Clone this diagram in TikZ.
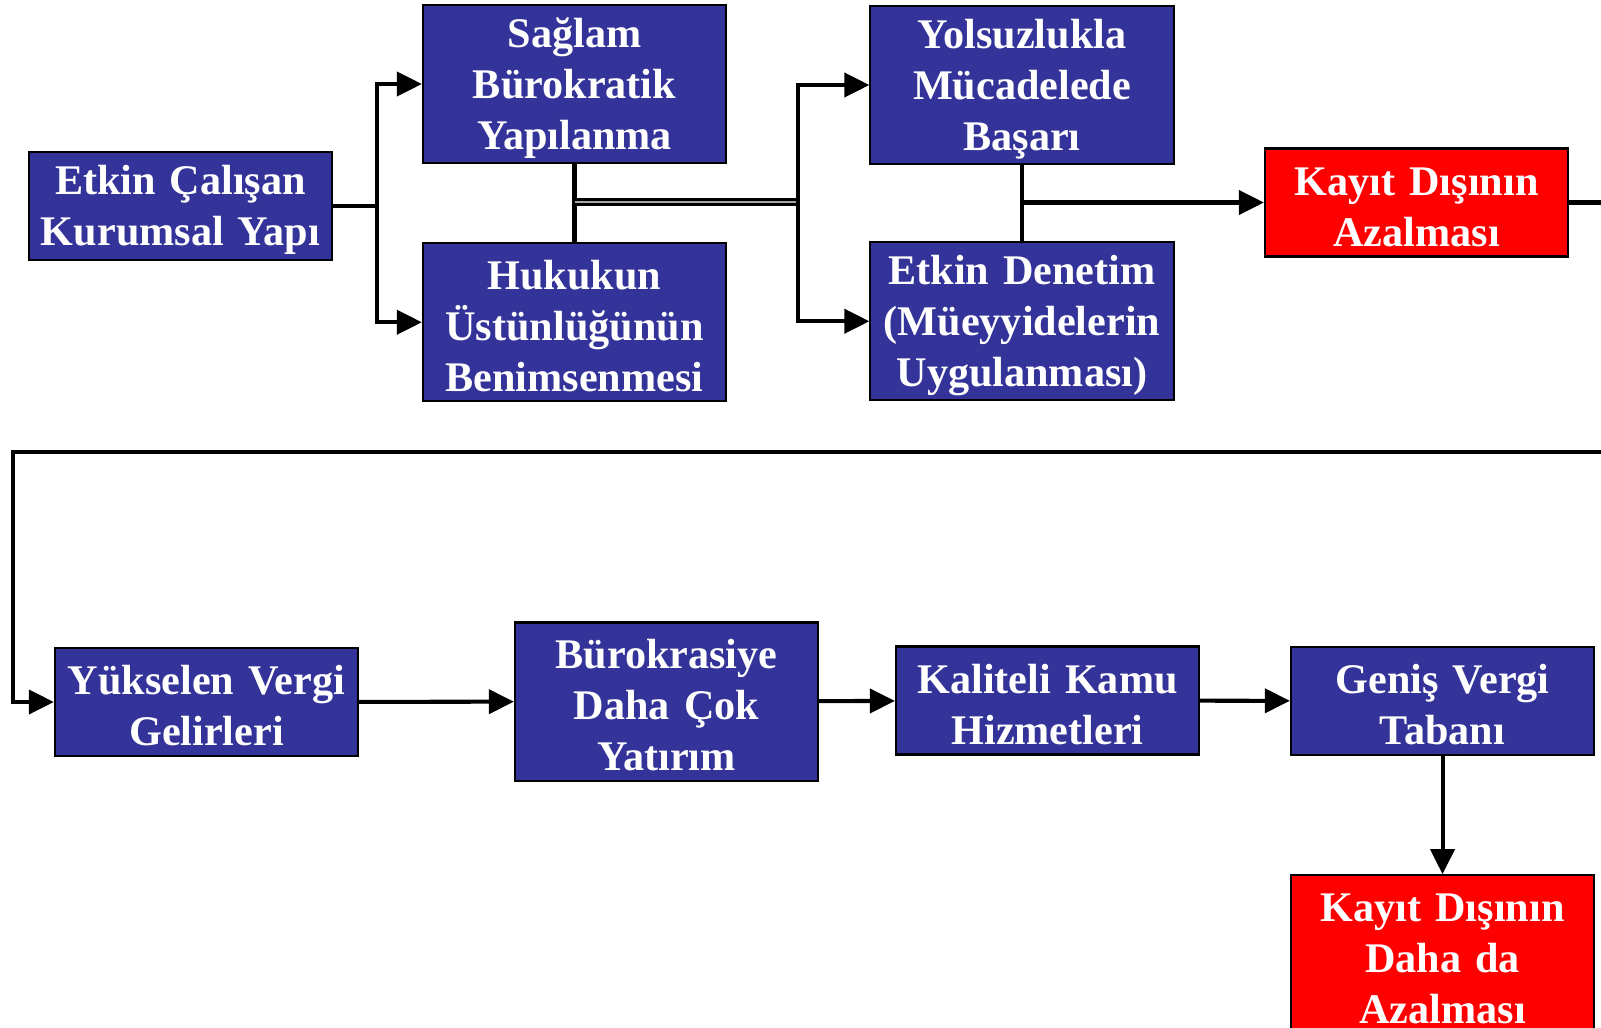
\documentclass[tikz,border=0pt]{standalone}
\usepackage{fontspec}
\setmainfont{Liberation Serif}
\usepackage{tikz}
\usetikzlibrary{positioning}
\usetikzlibrary{arrows.meta}

\definecolor{kutumavi}{RGB}{51,51,153}
\definecolor{kutukirmizi}{RGB}{255,0,0}
\newcommand{\ustbosluk}{\rule{0pt}{10.6pt}}

\begin{document}
\begin{tikzpicture}[
    x=0.01cm, y=-0.01cm,
    kutu/.style={draw,line width=0.6pt,fill=kutumavi,text=white,
      font=\fontsize{12}{14.5}\selectfont\bfseries,
      text width=3.03cm,align=center,inner sep=0pt,
      execute at begin node=\ustbosluk,
      minimum height=1.08cm},
    uzun/.style={minimum height=1.58cm},
    sonuc/.style={fill=kutukirmizi},
    hat/.style={line width=1.15pt},
    ok/.style={hat,-{Triangle[length=0.25cm,width=0.24cm]}},
    cift/.style={line width=0.025cm,double=gray!70,double distance=0.025cm}
    ]

    \useasboundingbox (0,0) rectangle (1601,1027);

    % ust sira
    \node[kutu] (calisan) at (180.5,206) {Etkin Çalışan\\Kurumsal Yapı};
    \node[kutu, uzun] (saglam) at (574.5,84) {Sağlam\\Bürokratik\\Yapılanma};
    \node[kutu, uzun, below=0.78cm of saglam] (hukuk) {Hukukun\\Üstünlüğünün\\Benimsenmesi};
    \node[kutu, uzun] (yolsuz) at (1022,85) {Yolsuzlukla\\Mücadelede\\Başarı};
    \node[kutu, uzun, below=0.76cm of yolsuz] (denetim) {Etkin Denetim\\(Müeyyidelerin\\Uygulanması)};
    \node[kutu, sonuc] (kayit) at (1416.5,202.5) {Kayıt Dışının\\Azalması};

    % alt sira
    \node[kutu] (yuksel) at (206.5,702) {Yükselen Vergi\\Gelirleri};
    \node[kutu, uzun] (burokrasi) at (666.5,701.5) {Bürokrasiye\\Daha Çok\\Yatırım};
    \node[kutu] (kalite) at (1047.5,700.5) {Kaliteli Kamu\\Hizmetleri};
    \node[kutu] (genis) at (1442.5,701) {Geniş Vergi\\Tabanı};
    \node[kutu, uzun, sonuc, below=1.18cm of genis] (kayitiki) {Kayıt Dışının\\Daha da\\Azalması};

    \coordinate (ayrim) at (377,206);
    \coordinate (birlesim) at (798,202);
    \coordinate (sagdon) at (1615,452);
    \coordinate (soldon) at (13,452);

    \draw[hat] (calisan) -- (ayrim);
    \draw[ok] (ayrim) |- (saglam);
    \draw[ok] (ayrim) |- (hukuk);

    \draw[hat] (saglam) -- (hukuk);
    \draw[cift] (saglam.south |- birlesim) -- (birlesim);
    \draw[ok] (birlesim) |- (yolsuz);
    \draw[ok] (birlesim) |- (denetim);

    \draw[hat] (yolsuz) -- (denetim);
    \draw[ok] (yolsuz.south |- kayit.west) -- (kayit.west);

    \draw[ok] (kayit.east) -| (sagdon) -- (soldon) |- (yuksel.west);

    \path (yuksel) edge[ok] (burokrasi)
    (burokrasi) edge[ok] (kalite)
    (kalite) edge[ok] (genis)
    (genis) edge[ok] (kayitiki)
    ;

\end{tikzpicture}
\end{document}
